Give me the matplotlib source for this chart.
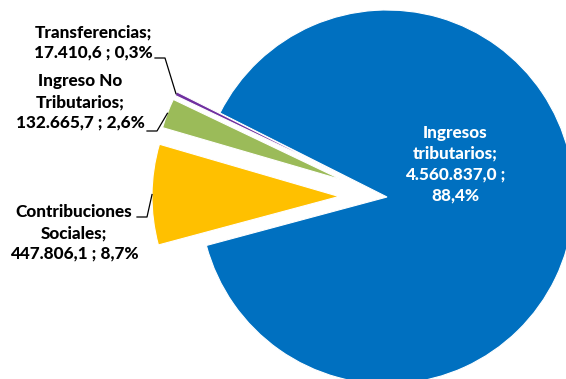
import numpy as np
import matplotlib.pyplot as plt

# Ingresos por tipo (millones)
labels = ["Ingresos\ntributarios", "Contribuciones\nSociales", "Ingreso No\nTributarios", "Transferencias"]
values = [4560837.0, 447806.1, 132665.7, 17410.6]
colors = ["#0070C0", "#FFC000", "#9BBB59", "#7030A0"]


def fmt_es(v, dec=1):
    s = f"{v:,.{dec}f}"
    return s.replace(",", "X").replace(".", ",").replace("X", ".")


total = sum(values)
pcts = [100 * v / total for v in values]
texts = [
    f"Ingresos\ntributarios;\n{fmt_es(values[0])} ;\n{fmt_es(pcts[0])}%",
    f"Contribuciones\nSociales;\n{fmt_es(values[1])} ; {fmt_es(pcts[1])}%",
    f"Ingreso No\nTributarios;\n{fmt_es(values[2])} ; {fmt_es(pcts[2])}%",
    f"Transferencias;\n{fmt_es(values[3])} ; {fmt_es(pcts[3])}%",
]

W, H = 566, 379
fig = plt.figure(figsize=(W / 100, H / 100), dpi=100)
ax = fig.add_axes([0, 0, 1, 1])

wedges, _ = ax.pie(values, colors=colors, startangle=153.3, counterclock=False,
                   explode=[0, 48, 48, 48], center=(387, 182), radius=187,
                   wedgeprops=dict(edgecolor="white", linewidth=0.8))
ax.set_xlim(0, W)
ax.set_ylim(0, H)
ax.set_aspect("equal")
ax.axis("off")

font = dict(family="Lato", fontweight="black", fontsize=12.3, linespacing=1.36)

ax.text(455, 215, texts[0], color="white", ha="center", va="center", **font)

# outer labels with elbow leaders to the middle of each arc
label_pos = {1: (74, 146), 2: (80, 277), 3: (93, 336.5)}
leader_start = {1: (137, 162), 2: (147, 248), 3: (155, 321)}
for i, (tx, ty) in label_pos.items():
    ax.text(tx, ty, texts[i], color="black", ha="center", va="center", **font)
    w = wedges[i]
    mid = np.deg2rad((w.theta1 + w.theta2) / 2)
    cx, cy = w.center
    ex, ey = cx + w.r * np.cos(mid), cy + w.r * np.sin(mid)
    sx, sy = leader_start[i]
    ax.plot([sx, sx + 10, ex], [sy, sy, ey], color="black", lw=0.9)

fig.savefig("out.png", dpi=100)
